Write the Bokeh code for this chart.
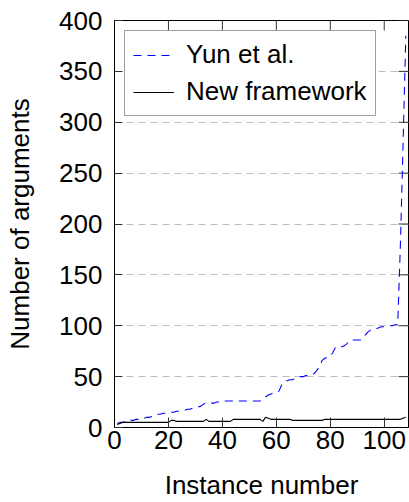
import math
from bokeh.plotting import figure
from bokeh.models import Range1d, FixedTicker, Legend, LegendItem
from bokeh.embed import file_html
from bokeh.resources import INLINE

# ---- data -------------------------------------------------------------
instances = list(range(1, 109))

yun_et_al = [
    4, 5, 5, 6, 6, 7, 7, 8, 8, 9,
    9, 10, 10, 11, 12, 13, 13, 14, 14, 15,
    15, 15, 16, 16, 17, 17, 18, 18, 19, 19,
    20, 21, 23, 24, 24, 24, 24, 25, 25, 25,
    26, 26, 26, 26, 26, 26, 26, 26, 26, 26,
    26, 26, 26, 26, 28, 30, 32, 33, 34, 34,
    36, 42, 44, 46, 47, 47, 48, 49, 50, 50,
    51, 51, 52, 53, 56, 60, 66, 68, 69, 70,
    74, 79, 79, 79, 80, 82, 85, 86, 86, 86,
    86, 88, 91, 94, 96, 97, 97, 98, 99, 99,
    100, 100, 100, 101, 101, 180, 280, 385,
]

new_framework = [
    3, 4, 5, 5, 5, 5, 5, 5, 5, 5,
    5, 5, 5, 5, 5, 5, 5, 5, 5, 5,
    7, 7, 6, 6, 6, 6, 6, 6, 6, 6,
    6, 6, 6, 8, 6, 6, 6, 6, 6, 6,
    6, 6, 6, 8, 8, 8, 8, 8, 8, 8,
    8, 8, 8, 8, 6, 10, 9, 8, 8, 8,
    8, 8, 8, 8, 8, 7, 7, 7, 7, 7,
    7, 7, 7, 7, 7, 7, 7, 8, 8, 8,
    8, 8, 8, 8, 8, 8, 8, 8, 8, 8,
    8, 8, 8, 8, 8, 8, 8, 8, 8, 8,
    8, 8, 8, 8, 8, 8, 9, 10,
]

x_ticks = [0, 20, 40, 60, 80, 100]
y_ticks = [0, 50, 100, 150, 200, 250, 300, 350, 400]

series_labels = ["Yun et al.", "New framework"]
x_label = "Instance number"
y_label = "Number of arguments"

X_MIN, X_MAX = 0, 109
Y_MIN, Y_MAX = 0, 400

# ---- styling ----------------------------------------------------------
FONT = "Liberation Sans"
FS = "26px"

p = figure(width=409, height=502, output_backend="svg", toolbar_location=None,
           x_range=Range1d(X_MIN, X_MAX), y_range=Range1d(Y_MIN, Y_MAX),
           min_border_left=114, min_border_top=20, min_border_right=1,
           min_border_bottom=0)

p.outline_line_color = "black"
p.outline_line_width = 1
p.background_fill_color = "white"
p.border_fill_color = "white"

p.xgrid.visible = False
p.ygrid.ticker = FixedTicker(ticks=y_ticks)
p.ygrid.grid_line_color = "#bdbdbd"
p.ygrid.grid_line_dash = "7 5"
p.ygrid.grid_line_width = 1

# mirrored inward ticks on the top and right frame edges (clipped to frame)
p.scatter(x_ticks, [Y_MAX] * len(x_ticks), marker="dash",
          size=20, angle=math.pi / 2, line_color="#333333", line_width=1)
p.scatter([X_MAX] * len(y_ticks), y_ticks, marker="dash",
          size=20, line_color="#333333", line_width=1)

r_yun = p.line(instances, yun_et_al, line_color="#0000ff", line_width=1.1,
               line_dash="8 6")
r_new = p.line(instances, new_framework, line_color="black", line_width=1.1)


def style_axis(ax, ticks, tick_len):
    ax.ticker = FixedTicker(ticks=ticks)
    ax.major_tick_in = tick_len
    ax.major_tick_out = 0
    ax.minor_tick_in = 0
    ax.minor_tick_out = 0
    ax.axis_line_color = "black"
    ax.major_tick_line_color = "#333333"
    ax.major_label_text_font = FONT
    ax.major_label_text_font_size = FS
    ax.major_label_text_color = "black"
    ax.axis_label_text_font = FONT
    ax.axis_label_text_font_size = FS
    ax.axis_label_text_font_style = "normal"
    ax.axis_label_text_color = "black"


style_axis(p.xaxis[0], x_ticks, 10)
p.xaxis[0].axis_label = x_label
p.xaxis[0].major_label_standoff = 3
p.xaxis[0].axis_label_standoff = 18

style_axis(p.yaxis[0], y_ticks, 8)
p.yaxis[0].axis_label = y_label
p.yaxis[0].major_label_standoff = 12
p.yaxis[0].axis_label_standoff = 21

legend = Legend(items=[LegendItem(label=series_labels[0], renderers=[r_yun]),
                       LegendItem(label=series_labels[1], renderers=[r_new])],
                location="top_left")
legend.margin = 10
legend.padding = 8
legend.spacing = 6
legend.glyph_width = 41
legend.glyph_height = 24
legend.label_standoff = 12
legend.label_text_font = FONT
legend.label_text_font_size = FS
legend.label_text_color = "black"
legend.border_line_color = "#404040"
legend.border_line_width = 1
legend.background_fill_color = "white"
legend.background_fill_alpha = 1.0
p.add_layout(legend, "center")

open("out.html", "w").write(file_html(p, INLINE))
